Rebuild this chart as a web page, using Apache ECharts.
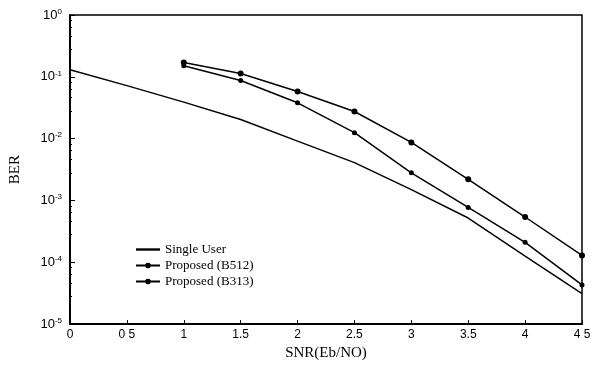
<!DOCTYPE html>
<html>
<head>
<meta charset="utf-8">
<script src="https://cdn.jsdelivr.net/npm/echarts@6/dist/echarts.min.js"></script>
<style>
html, body { margin: 0; padding: 0; background: #fff; }
#main { width: 601px; height: 366px; }
</style>
</head>
<body>
<div id="main"></div>
<script>
var snr = [0, 0.5, 1, 1.5, 2, 2.5, 3, 3.5, 4, 4.5];
var xTickLabels = ['0', '0 5', '1', '1.5', '2', '2.5', '3', '3.5', '4', '4 5'];
var singleUser = [0.13, 0.072, 0.039, 0.0204, 0.0091, 0.0041, 0.0015, 0.00052, 0.000126, 0.000031];
var snrProposed = [1, 1.5, 2, 2.5, 3, 3.5, 4, 4.5];
var b512 = [0.171, 0.113, 0.058, 0.0275, 0.0087, 0.0022, 0.00054, 0.000129];
var b313 = [0.151, 0.087, 0.038, 0.0125, 0.0028, 0.00077, 0.00021, 0.000043];

function pairs(xs, ys) {
	var out = [];
	for (var i = 0; i < xs.length; i++) out.push([xs[i], ys[i]]);
	return out;
}

var myChart = echarts.init(document.getElementById('main'));
var serif = '"Liberation Serif", "DejaVu Serif", serif';
var sans = '"Liberation Sans", Arial, sans-serif';

var option = {
	backgroundColor: '#fff',
	animation: false,
	grid: {
		left: 70, right: 19, top: 15, bottom: 36,
		show: true, borderColor: '#000', borderWidth: 1.5
	},
	legend: {
		orient: 'vertical',
		left: 130, top: 238,
		itemWidth: 24, itemHeight: 7, itemGap: 3,
		textStyle: { fontFamily: serif, fontSize: 13, color: '#000' },
		data: [
			{ name: 'Single User', icon: 'path://M0,0 L10,0 L10,1 L0,1 Z', itemStyle: { color: '#000' } },
			'Proposed (B512)',
			'Proposed (B313)'
		]
	},
	xAxis: {
		type: 'value',
		min: 0, max: 4.5, interval: 0.5,
		name: 'SNR(Eb/NO)',
		nameLocation: 'middle', nameGap: 21,
		nameTextStyle: { fontFamily: serif, fontSize: 15, color: '#000' },
		axisLine: { lineStyle: { color: '#000', width: 2 } },
		axisTick: { inside: true, length: 4, lineStyle: { color: '#000' } },
		axisLabel: {
			fontFamily: sans, fontSize: 12, color: '#000', margin: 5,
			formatter: function (v) {
				var i = Math.round(v / 0.5);
				return xTickLabels[i];
			}
		},
		splitLine: { show: false }
	},
	yAxis: {
		type: 'log', logBase: 10,
		min: 0.00001, max: 1,
		name: 'BER',
		nameLocation: 'middle', nameGap: 47,
		nameTextStyle: { fontFamily: serif, fontSize: 15, color: '#000' },
		axisLine: { show: true, lineStyle: { color: '#000', width: 2 } },
		axisTick: { inside: true, length: 5, lineStyle: { color: '#000' } },
		minorTick: { show: true, splitNumber: 5, length: 2, lineStyle: { color: '#000' } },
		axisLabel: {
			color: '#000', margin: 8,
			formatter: function (v) {
				var e = Math.round(Math.log(v) / Math.LN10);
				return '{b|10}{s|' + e + '}';
			},
			rich: {
				b: { fontFamily: sans, fontSize: 13, color: '#000' },
				s: { fontFamily: sans, fontSize: 8, color: '#000', verticalAlign: 'top', padding: [0, 0, 7, 0] }
			}
		},
		splitLine: { show: false }
	},
	series: [
		{
			name: 'Single User', type: 'line',
			data: pairs(snr, singleUser),
			showSymbol: false, symbol: 'none',
			lineStyle: { color: '#000', width: 1.5 },
			itemStyle: { color: '#000' }
		},
		{
			name: 'Proposed (B512)', type: 'line',
			data: pairs(snrProposed, b512),
			symbol: 'circle', symbolSize: 6,
			lineStyle: { color: '#000', width: 1.5 },
			itemStyle: { color: '#000' }
		},
		{
			name: 'Proposed (B313)', type: 'line',
			data: pairs(snrProposed, b313),
			symbol: 'circle', symbolSize: 5,
			lineStyle: { color: '#000', width: 1.5 },
			itemStyle: { color: '#000' }
		}
	]
};

myChart.setOption(option);
</script>
</body>
</html>
